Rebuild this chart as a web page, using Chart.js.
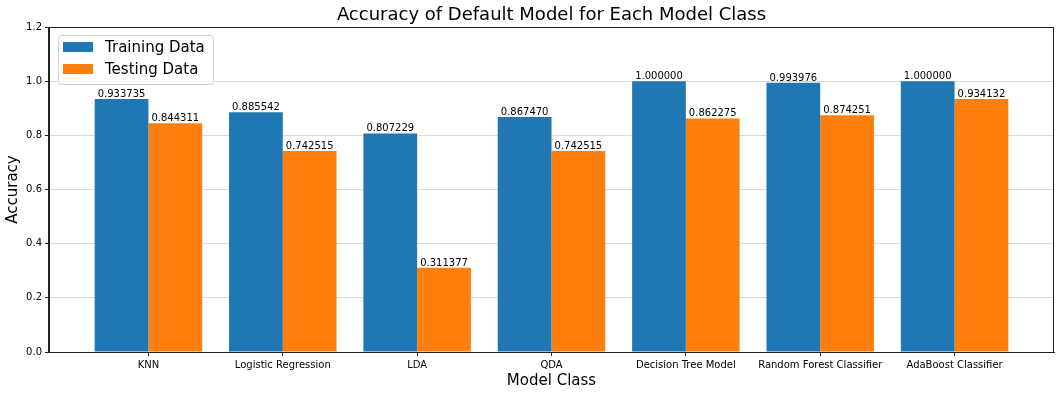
<!DOCTYPE html>
<html>
<head>
<meta charset="utf-8">
<script src="https://cdn.jsdelivr.net/npm/chart.js@4/dist/chart.umd.min.js"></script>
<style>
  html, body { margin: 0; padding: 0; background: #fff; }
  #wrap { width: 1064px; height: 396px; }
</style>
</head>
<body>
<div id="wrap"><canvas id="chart" width="1064" height="396"></canvas></div>
<script>
const categories = ['KNN', 'Logistic Regression', 'LDA', 'QDA', 'Decision Tree Model', 'Random Forest Classifier', 'AdaBoost Classifier'];
const trainAcc = [0.933735, 0.885542, 0.807229, 0.867470, 1.000000, 0.993976, 1.000000];
const testAcc = [0.844311, 0.742515, 0.311377, 0.742515, 0.862275, 0.874251, 0.934132];
const yTicks = [0, 0.2, 0.4, 0.6, 0.8, 1.0, 1.2];
const seriesNames = ['Training Data', 'Testing Data'];

const BLUE = '#1f77b4';
const ORANGE = '#ff7f0e';
const INK = '#222';
const TEXT = '#000';
const FONT = '"DejaVu Sans", sans-serif';

// title, legend box, value labels and the top/right spines, drawn like matplotlib
const decor = {
  id: 'decor',
  afterDraw(chart) {
    const { ctx, chartArea: a } = chart;
    ctx.save();

    ctx.strokeStyle = INK;
    ctx.lineWidth = 1;
    ctx.strokeRect(a.left - 0.5, a.top + 0.5, a.right - a.left, a.bottom - a.top);

    ctx.fillStyle = TEXT;
    ctx.font = `10px ${FONT}`;
    ctx.textAlign = 'center';
    ctx.textBaseline = 'alphabetic';
    chart.data.datasets.forEach((ds, di) => {
      chart.getDatasetMeta(di).data.forEach((bar, i) => {
        ctx.fillText(ds.data[i].y.toFixed(6), bar.x, bar.y - 2);
      });
    });

    ctx.font = `18px ${FONT}`;
    ctx.textBaseline = 'middle';
    ctx.fillText('Accuracy of Default Model for Each Model Class', (a.left + a.right) / 2, 15);

    const lx = a.left + 9, ly = a.top + 8, lw = 155, lh = 49;
    ctx.beginPath();
    ctx.roundRect(lx + 0.5, ly + 0.5, lw, lh, 3);
    ctx.fillStyle = 'rgba(255,255,255,0.8)';
    ctx.fill();
    ctx.strokeStyle = '#d0d0d0';
    ctx.stroke();

    ctx.font = `15px ${FONT}`;
    ctx.textAlign = 'left';
    [BLUE, ORANGE].forEach((c, i) => {
      const cy = ly + 12 + i * 22;
      ctx.fillStyle = c;
      ctx.fillRect(lx + 5, cy - 5, 30, 10);
      ctx.fillStyle = TEXT;
      ctx.fillText(seriesNames[i], lx + 47, cy + 1);
    });

    ctx.restore();
  }
};

new Chart(document.getElementById('chart'), {
  type: 'bar',
  data: {
    datasets: [
      { label: seriesNames[0], data: trainAcc.map((v, i) => ({ x: i, y: v })), backgroundColor: BLUE },
      { label: seriesNames[1], data: testAcc.map((v, i) => ({ x: i, y: v })), backgroundColor: ORANGE },
    ],
  },
  options: {
    responsive: false,
    animation: false,
    events: [],
    categoryPercentage: 0.8,
    barPercentage: 1.0,
    elements: { bar: { borderWidth: 0, inflateAmount: 0 } },
    layout: { padding: { top: 27, right: 10, left: 0, bottom: 0 } },
    plugins: { legend: { display: false }, title: { display: false }, tooltip: { enabled: false } },
    scales: {
      x: {
        type: 'linear',
        offset: false,
        min: -0.74,
        max: categories.length - 1 + 0.74,
        afterBuildTicks: s => { s.ticks = categories.map((c, i) => ({ value: i })); },
        afterFit: s => { s.height = 44; },
        ticks: {
          callback: v => categories[v],
          font: { family: FONT, size: 10 },
          color: TEXT,
          padding: 3,
          maxRotation: 0,
          autoSkip: false,
        },
        grid: { offset: false, drawOnChartArea: false, drawTicks: true, tickLength: 4, tickColor: INK },
        border: { color: INK, width: 1 },
        title: { display: true, text: 'Model Class', font: { family: FONT, size: 15 }, color: TEXT, padding: { top: 0, bottom: 6 } },
      },
      y: {
        min: 0,
        max: 1.2,
        z: 1,
        afterBuildTicks: s => { s.ticks = yTicks.map(v => ({ value: v })); },
        afterFit: s => { s.width = 49; },
        ticks: {
          callback: v => v.toFixed(1),
          font: { family: FONT, size: 10 },
          color: TEXT,
          padding: 3,
        },
        grid: { color: 'rgba(176,176,176,0.45)', lineWidth: 1, tickLength: 4, tickColor: INK },
        border: { color: INK, width: 1 },
        title: { display: true, text: 'Accuracy', font: { family: FONT, size: 15 }, color: TEXT, padding: { top: 4, bottom: 0 } },
      },
    },
  },
  plugins: [decor],
});
</script>
</body>
</html>
